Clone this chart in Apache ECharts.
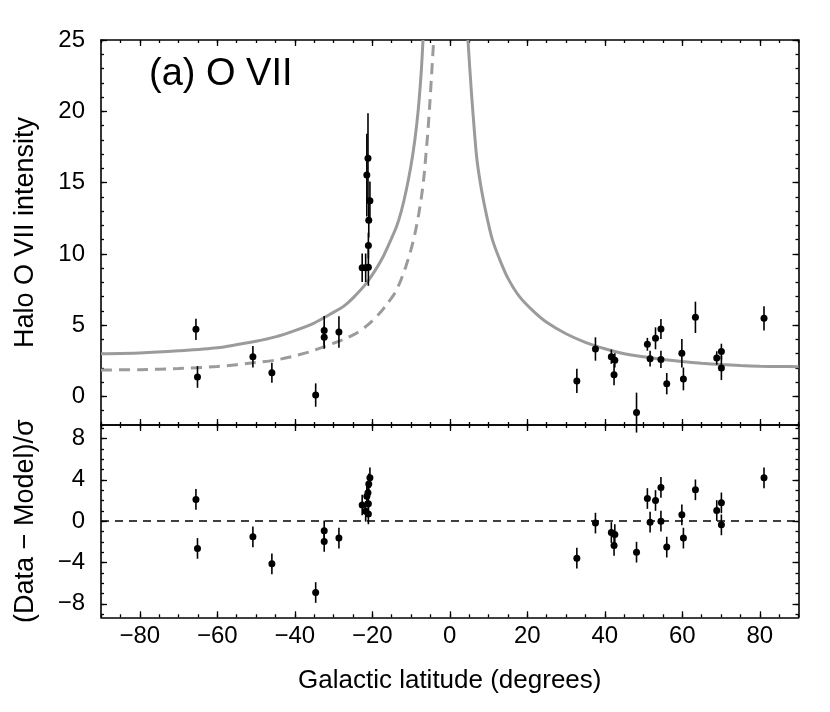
<!DOCTYPE html>
<html><head><meta charset="utf-8">
<script src="https://cdn.jsdelivr.net/npm/echarts@6/dist/echarts.min.js"></script>
<style>html,body{margin:0;padding:0;background:#fff}#c{width:830px;height:712px}</style>
</head><body><div id="c"></div>
<script>
// ---------- data ----------
const latitude = [-65.5,-65.1,-50.8,-45.9,-34.6,-32.4,-32.4,-28.6,
  -22.6,-21.7,-21.0,-21.0,-20.9,-20.6,-21.4,-21.1,
  32.8,37.6,41.7,42.4,42.6,48.2,51.0,51.7,53.1,54.5,54.5,56.0,59.9,60.3,63.4,68.9,70.1,70.1,81.1];
const haloIntensity = [4.71,1.37,2.79,1.67,0.10,4.62,4.15,4.52,
  9.03,9.03,9.06,10.58,12.36,13.73,15.53,16.70,
  1.09,3.33,2.79,1.53,2.54,-1.13,3.66,2.65,4.08,4.73,2.60,0.90,3.03,1.23,5.55,2.70,3.15,2.00,5.48];
const intensityError = [0.75,0.76,0.75,0.70,0.82,1.03,0.80,1.10,
  1.00,1.00,1.30,0.90,1.20,1.35,2.90,3.16,
  0.85,0.82,0.50,0.75,0.50,1.40,0.45,0.55,0.77,0.70,0.60,0.75,1.00,0.80,1.10,0.47,0.55,0.85,0.85];
const residual = [2.1,-2.64,-1.52,-4.13,-6.9,-0.93,-1.97,-1.64,
  1.56,0.95,0.7,1.68,3.6,4.2,2.42,2.75,
  -3.58,-0.19,-1.1,-2.35,-1.29,-3.0,2.19,-0.1,2.0,3.26,0.0,-2.51,0.61,-1.64,3.03,1.03,1.77,-0.36,4.19];
const residualError = [1,1,1,1,1,1,1,1,1,1,1,1,1,1,1,1,1,1,1,1,1,1,1,1,1,1,1,1,1,1,1,1,1,1,1];

// model curves
const solidLeftX = [-90,-80,-70,-60,-50,-45,-40,-35,-30,-27.5,-25,-21.5,-19,-17.2,-15.5,-13.75,-12.5,-11.2,-10,-9,-8.2,-7.7,-7.3,-6.9];
const solidLeftY = [3.0,3.05,3.2,3.42,3.88,4.18,4.62,5.15,5.9,6.3,6.9,7.95,8.95,9.8,10.8,11.9,13.0,14.5,16.2,18.0,19.9,21.5,23.0,25];
const dashedLeftX = [-90,-80,-70,-60,-50,-45,-40,-36.1,-30.1,-27,-24.1,-21,-18.1,-16,-14.2,-12.7,-11.35,-10,-9,-8,-7.3,-6.7,-6.2,-5.7,-5.2,-4.7,-4.3,-4.15];
const dashedLeftY = [1.86,1.88,1.96,2.1,2.38,2.55,2.85,3.14,3.73,4.05,4.43,5.05,5.83,6.55,7.24,8.1,9.1,10.3,11.4,12.8,14.0,15.3,16.8,18.4,20.3,22.5,24.3,25];
const solidRightX = [4.7,5.6,6.9,8,9.5,11,12.9,15,18,21.5,25,30,35,40,45,50,55,60,65,70,75,80,85,90];
const solidRightY = [25,21.3,16.9,14.8,12.7,11.0,9.6,8.3,7.0,6.0,5.2,4.4,3.8,3.35,3.0,2.78,2.6,2.45,2.33,2.24,2.17,2.12,2.1,2.09];

// ticks
const xMajorTicks = [-80,-60,-40,-20,0,20,40,60,80];
const xMinorTicks = [-90,-85,-80,-75,-70,-65,-60,-55,-50,-45,-40,-35,-30,-25,-20,-15,-10,-5,0,5,10,15,20,25,30,35,40,45,50,55,60,65,70,75,80,85,90];
const yTopMajorTicks = [0,5,10,15,20,25];
const yTopMinorTicks = [-2,-1,0,1,2,3,4,5,6,7,8,9,10,11,12,13,14,15,16,17,18,19,20,21,22,23,24,25];
const yBotMajorTicks = [-8,-4,0,4,8];
const yBotMinorTicks = [-9,-8,-7,-6,-5,-4,-3,-2,-1,0,1,2,3,4,5,6,7,8,9];

// ---------- chart ----------
const FONT = '"Liberation Sans", Arial, Helvetica, sans-serif';
const BLACK = '#000';
const GREY = '#9b9b9b';
const fmt = v => String(v).replace('-', '\u2212');
const tickStyle = {color: BLACK, width: 1.3};
const hiddenLine = {show: false, onZero: false};

function makeX(grid, withLabels) {
  const base = {gridIndex: grid, type: 'value', min: -90, max: 90, splitLine: {show: false}};
  return [
    Object.assign({}, base, {position: 'bottom',
      axisLine: {show: true, onZero: false, lineStyle: {color: BLACK, width: 1.6}},
      axisTick: {show: true, inside: true, length: 6, customValues: xMajorTicks, lineStyle: tickStyle},
      axisLabel: {show: withLabels, customValues: xMajorTicks, formatter: fmt, margin: 7,
        color: BLACK, fontSize: 24, fontFamily: FONT},
      name: withLabels ? 'Galactic latitude (degrees)' : '', nameLocation: 'middle', nameGap: 51,
      nameTextStyle: {color: BLACK, fontSize: 26, fontFamily: FONT}}),
    Object.assign({}, base, {position: 'bottom', axisLine: hiddenLine,
      axisTick: {show: true, inside: true, length: 3, customValues: xMinorTicks, lineStyle: tickStyle},
      axisLabel: {show: false}}),
    Object.assign({}, base, {position: 'top',
      axisLine: {show: true, onZero: false, lineStyle: {color: BLACK, width: 1.6}},
      axisTick: {show: true, inside: true, length: 6, customValues: xMajorTicks, lineStyle: tickStyle},
      axisLabel: {show: false}}),
    Object.assign({}, base, {position: 'top', axisLine: hiddenLine,
      axisTick: {show: true, inside: true, length: 3, customValues: xMinorTicks, lineStyle: tickStyle},
      axisLabel: {show: false}})
  ];
}
function makeY(grid, min, max, major, minor, name) {
  const base = {gridIndex: grid, type: 'value', min: min, max: max, splitLine: {show: false}};
  return [
    Object.assign({}, base, {position: 'left',
      axisLine: {show: true, onZero: false, lineStyle: {color: BLACK, width: 1.6}},
      axisTick: {show: true, inside: true, length: 6, customValues: major, lineStyle: tickStyle},
      axisLabel: {show: true, customValues: major, formatter: fmt, margin: 16,
        color: BLACK, fontSize: 24, fontFamily: FONT},
      name: name, nameLocation: 'middle', nameGap: 62,
      nameTextStyle: {color: BLACK, fontSize: 27, fontFamily: FONT}}),
    Object.assign({}, base, {position: 'left', axisLine: hiddenLine,
      axisTick: {show: true, inside: true, length: 3, customValues: minor, lineStyle: tickStyle},
      axisLabel: {show: false}}),
    Object.assign({}, base, {position: 'right',
      axisLine: {show: true, onZero: false, lineStyle: {color: BLACK, width: 1.6}},
      axisTick: {show: true, inside: true, length: 6, customValues: major, lineStyle: tickStyle},
      axisLabel: {show: false}}),
    Object.assign({}, base, {position: 'right', axisLine: hiddenLine,
      axisTick: {show: true, inside: true, length: 3, customValues: minor, lineStyle: tickStyle},
      axisLabel: {show: false}})
  ];
}

function errorBars(params, api) {
  const x = api.value(0), y = api.value(1), e = api.value(2);
  const p1 = api.coord([x, y - e]);
  const p2 = api.coord([x, y + e]);
  return {type: 'line', shape: {x1: p1[0], y1: p1[1], x2: p2[0], y2: p2[1]},
    style: {stroke: BLACK, lineWidth: 1.6}};
}
const zip2 = (a, b) => a.map((v, i) => [v, b[i]]);
const zip3 = (a, b, c) => a.map((v, i) => [v, b[i], c[i]]);

const curveBase = {type: 'line', xAxisIndex: 0, yAxisIndex: 0, showSymbol: false, smooth: 0.25, z: 1, silent: true};

const chart = echarts.init(document.getElementById('c'), null, {renderer: 'canvas'});
chart.setOption({
  animation: false,
  backgroundColor: '#fff',
  title: {text: '(a) O VII', left: 149, top: 56, padding: 0,
    textStyle: {color: BLACK, fontSize: 38, fontWeight: 'normal', fontFamily: FONT}},
  grid: [
    {left: 101, top: 40, width: 697.5, height: 385},
    {left: 101, top: 425, width: 697.5, height: 192.3}
  ],
  xAxis: makeX(0, false).concat(makeX(1, true)),
  yAxis: makeY(0, -2, 25, yTopMajorTicks, yTopMinorTicks, 'Halo O VII intensity')
    .concat(makeY(1, -9.3, 9.3, yBotMajorTicks, yBotMinorTicks, '(Data \u2212 Model)/\u03c3')),
  series: [
    Object.assign({}, curveBase, {data: zip2(solidLeftX, solidLeftY), lineStyle: {color: GREY, width: 3}}),
    Object.assign({}, curveBase, {data: zip2(dashedLeftX, dashedLeftY), lineStyle: {color: GREY, width: 3, type: [11, 7]}}),
    Object.assign({}, curveBase, {data: zip2(solidRightX, solidRightY), lineStyle: {color: GREY, width: 3}}),
    {type: 'custom', xAxisIndex: 0, yAxisIndex: 0, renderItem: errorBars, clip: false,
      data: zip3(latitude, haloIntensity, intensityError), encode: {x: 0, y: 1}, z: 3, silent: true},
    {type: 'scatter', xAxisIndex: 0, yAxisIndex: 0, data: zip2(latitude, haloIntensity),
      symbol: 'circle', symbolSize: 7, itemStyle: {color: BLACK, opacity: 1}, z: 4, silent: true},
    {type: 'custom', xAxisIndex: 4, yAxisIndex: 4, renderItem: errorBars, clip: false,
      data: zip3(latitude, residual, residualError), encode: {x: 0, y: 1}, z: 3, silent: true},
    {type: 'scatter', xAxisIndex: 4, yAxisIndex: 4, data: zip2(latitude, residual),
      symbol: 'circle', symbolSize: 7, itemStyle: {color: BLACK, opacity: 1}, z: 4, silent: true,
      markLine: {silent: true, symbol: 'none', label: {show: false},
        lineStyle: {color: BLACK, width: 1.5, type: [8, 6]},
        data: [{yAxis: 0}]}}
  ]
});
</script>
</body></html>
